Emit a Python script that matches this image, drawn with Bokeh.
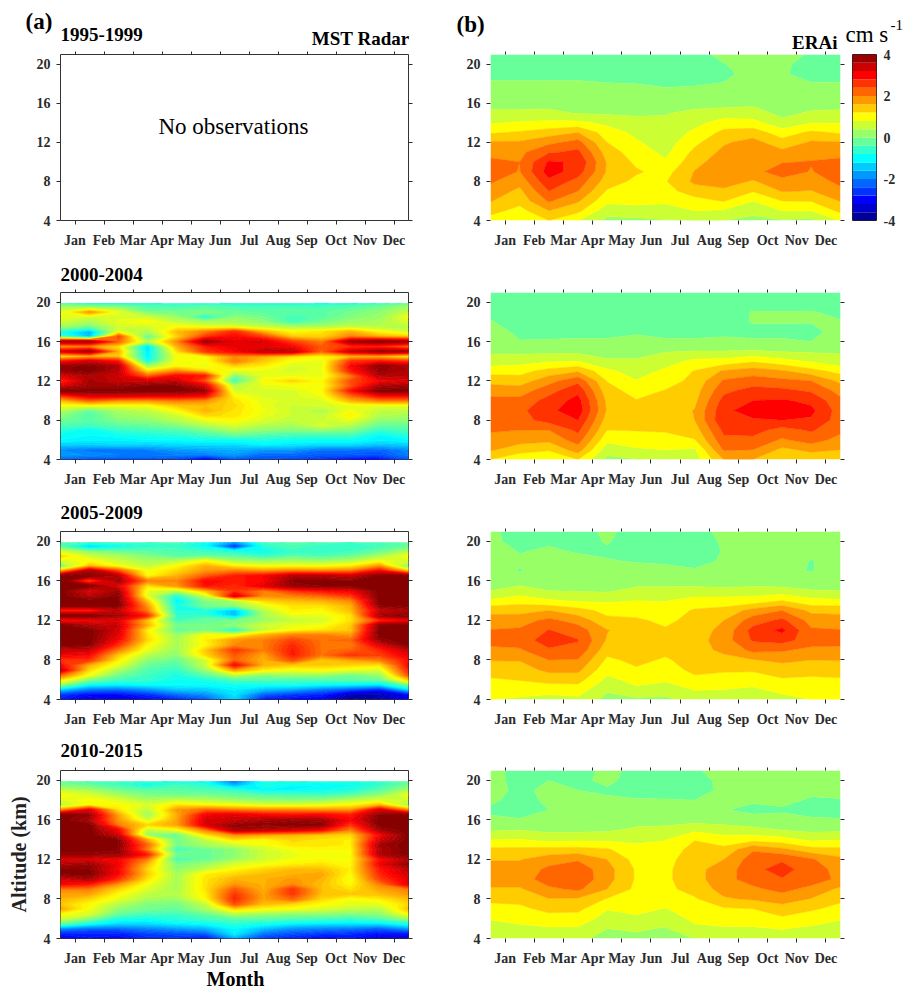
import numpy as np
from bokeh.plotting import figure
from bokeh.layouts import column, row
from bokeh.models import Label, LinearAxis, FixedTicker, Range1d
from bokeh.embed import file_html
from bokeh.resources import INLINE

MONTHS = ["Jan","Feb","Mar","Apr","May","Jun","Jul","Aug","Sep","Oct","Nov","Dec"]
MONTH_TICKS = list(range(1, 13))
ALT_TICKS = [4, 8, 12, 16, 20]
CB_TICKS = [-4, -2, 0, 2, 4]
GRID_X = [0.5,1.5,2.5,3.5,4.5,5.5,6.5,7.5,8.5,9.5,10.5,11.5,12.5]
ERA_ALT = [21,20,19,18,17,16,15,14,13,12,11,10,9,8,7,6,5,4]
MST_ALT = [19.9,19.5,19,18.5,18,17.5,17,16.5,16,15.5,15,14.5,14,13.5,13,12.5,12,11.5,11,10.5,10,9.5,9,8.5,8,7.5,7,6.5,6,5.5,5,4.5,4]
ERA_LEVELS = [-4,-3.6,-3.2,-2.8,-2.4,-2,-1.6,-1.2,-0.8,-0.4,0,0.4,0.8,1.2,1.6,2,2.4,2.8,3.2,3.6,4]
ERA_COLORS = ["#000099","#0000CC","#0000FF","#0033FF","#0066FF","#0099FF","#00CCFF","#00FFFF","#33FFCC","#66FF99",
              "#99FF66","#CCFF33","#FFFF00","#FFCC00","#FF9900","#FF6600","#FF3300","#FF0000","#CC0000","#990000"]

# ERAi: one list per month-edge column, altitude 21 km down to 4 km
ERA_1995 = [
[-.2,-.2,-.1,.05,.2,.3,.45,.75,1.15,1.65,1.85,2.1,2.2,2.05,1.85,1.62,1.35,1.0],
[-.2,-.2,-.1,.05,.2,.3,.45,.85,1.25,1.65,1.9,2.0,1.98,1.75,1.5,1.35,1.05,.8],
[-.2,-.2,-.1,.05,.2,.3,.47,.9,1.4,1.9,2.35,2.85,3.0,2.7,2.4,2.05,1.6,1.2],
[-.2,-.2,-.1,.05,.2,.3,.38,.9,1.6,2.15,2.5,2.75,2.6,2.25,2.0,1.65,1.3,.8],
[-.2,-.2,-.15,.02,.15,.3,.35,.7,1.0,1.2,1.4,1.55,1.55,1.4,1.15,.9,.55,.3],
[-.2,-.2,-.15,0,.15,.3,.35,.5,.7,.85,1.0,1.12,1.25,1.1,1.0,.9,.65,.3],
[-.2,-.2,-.2,-.07,.12,.25,.37,.5,.5,.6,.7,.85,1.05,1.17,1.05,.88,.6,.38],
[-.2,-.15,-.1,-.03,.1,.25,.5,.65,.9,1.1,1.3,1.45,1.62,1.68,1.4,1.05,.8,.4],
[.15,-.02,-.1,.02,.15,.28,.55,1.0,1.3,1.55,1.7,1.85,1.9,1.8,1.5,1.22,.75,.4],
[.2,.2,.15,.15,.2,.33,.55,.95,1.4,1.75,1.9,1.95,1.9,1.55,1.22,.8,.5,.3],
[.15,.05,.03,.05,.15,.25,.3,.5,1.0,1.35,1.7,1.98,2.15,1.9,1.62,1.2,.8,.35],
[-.05,-.1,-.1,.02,.15,.25,.45,.78,1.28,1.65,1.85,2.02,1.98,1.8,1.58,1.22,.8,.3],
[-.15,-.15,-.1,.02,.15,.3,.45,.78,1.15,1.62,1.85,2.1,2.2,2.1,1.9,1.62,1.3,.82],
]
ERA_2000 = [
[-.2,-.2,-.1,.03,.2,.3,.35,.55,1.05,1.45,1.85,2.1,2.2,2.2,2.05,1.85,1.65,1.2],
[-.25,-.25,-.25,-.2,-.1,.02,.3,.65,1.05,1.4,1.8,2.12,2.3,2.25,2.0,1.75,1.4,.85],
[-.25,-.25,-.25,-.2,-.1,.03,.3,.75,1.35,1.85,2.25,2.55,2.7,2.55,2.0,1.7,1.25,.8],
[-.25,-.25,-.25,-.2,-.1,.05,.3,.8,1.55,2.3,2.7,2.95,3.05,2.8,2.5,2.2,1.8,1.2],
[-.25,-.25,-.25,-.2,-.1,.05,.25,.45,.9,1.18,1.35,1.5,1.55,1.4,1.2,.9,.55,.3],
[-.25,-.25,-.25,-.2,-.05,.12,.25,.45,.6,.82,1.05,1.22,1.3,1.3,1.22,1.0,.75,.38],
[-.25,-.25,-.25,-.2,-.1,.05,.38,.62,.88,1.02,1.22,1.3,1.35,1.32,1.25,1.03,.8,.45],
[-.25,-.25,-.25,-.2,-.1,.05,.42,.9,1.22,1.32,1.42,1.5,1.62,1.6,1.4,1.18,.75,.6],
[-.25,-.25,-.25,-.15,-.05,.05,.42,.95,1.65,2.05,2.3,2.55,2.7,2.75,2.5,2.3,2.05,1.6],
[-.25,-.25,.03,.02,-.1,.05,.45,1.15,1.8,2.2,2.55,2.8,3.0,2.75,2.55,2.3,2.0,1.6],
[-.25,-.25,.02,.02,-.1,.05,.38,.95,1.65,2.1,2.5,2.85,3.05,2.8,2.25,1.95,1.5,1.3],
[-.25,-.25,.03,.02,-.15,0,.35,.75,1.35,2.0,2.35,2.7,2.9,2.75,2.45,2.2,1.7,1.3],
[-.25,-.25,-.1,.03,.2,.3,.35,.55,1.05,1.5,1.85,2.1,2.2,2.2,2.1,1.85,1.6,1.2],
]
ERA_2005 = [
[.1,.1,.15,.15,.2,.3,.4,.85,1.5,1.75,2.02,2.15,1.9,1.62,1.4,1.15,1.0,.8],
[-.2,-.15,-.02,.05,-.03,.25,.55,1.05,1.45,1.85,2.05,2.2,1.95,1.62,1.42,1.22,.95,.75],
[-.2,-.05,.05,.15,.2,.3,.4,.85,1.6,2.1,2.42,2.6,2.35,2.0,1.7,1.35,.95,.65],
[-.2,-.15,-.03,.1,.2,.3,.38,.75,1.35,1.85,2.2,2.42,2.3,1.98,1.7,1.35,1.0,.7],
[.1,.03,-.05,.02,.15,.25,.35,.72,1.08,1.3,1.62,1.55,1.35,1.12,.92,.7,.45,.28],
[-.2,-.2,-.2,-.02,.12,.25,.5,.8,1.02,1.27,1.38,1.42,1.38,1.3,1.15,.92,.72,.32],
[-.2,-.2,-.15,-.05,.1,.25,.5,.78,.95,1.1,1.25,1.35,1.3,1.15,1.02,.85,.6,.3],
[-.2,-.2,-.18,-.08,.03,.2,.55,.95,1.25,1.35,1.4,1.42,1.42,1.38,1.3,1.1,.82,.55],
[.15,.05,.02,.03,.05,.2,.5,.98,1.32,1.6,1.72,1.8,1.7,1.45,1.25,1.05,.8,.55],
[.2,.2,.2,.2,.1,.15,.6,.95,1.75,2.2,2.55,2.45,2.1,1.58,1.25,1.0,.72,.45],
[.2,.2,.2,.2,.08,.15,.55,1.2,2.0,2.5,2.9,2.55,2.05,1.68,1.42,1.15,.92,.65],
[.2,.15,.1,-.02,-.02,.2,.42,.92,1.5,1.85,2.05,2.2,1.9,1.6,1.4,1.1,.9,.8],
[.15,.05,.15,.15,.2,.3,.4,.85,1.5,1.75,2.02,2.15,1.9,1.62,1.4,1.15,1.0,.8],
]
ERA_2010 = [
[.15,.15,.15,.05,-.05,.05,.35,.78,1.3,1.58,1.72,1.8,1.55,1.28,1.08,.82,.65,.5],
[-.15,-.15,-.1,-.1,-.1,.02,.38,.82,1.3,1.58,1.72,1.8,1.55,1.3,1.12,.92,.7,.5],
[-.1,0,.1,.05,0,.2,.3,.65,1.35,1.8,2.1,2.2,1.92,1.58,1.3,1.05,.75,.55],
[-.15,-.08,0,.1,.2,.27,.3,.72,1.35,1.95,2.25,2.3,2.08,1.55,1.3,1.0,.75,.5],
[.1,.08,-.05,.05,.15,.25,.33,.72,1.25,1.6,1.75,1.75,1.6,1.17,.82,.65,.4,.25],
[-.1,-.15,-.1,.02,.15,.25,.47,.72,.92,1.05,1.15,1.15,1.1,1.02,.92,.72,.45,.3],
[-.15,-.2,-.15,.02,.15,.25,.5,.78,.95,1.05,1.1,1.12,1.1,1.0,.78,.55,.37,.28],
[-.05,-.15,-.1,0,.1,.25,.7,1.18,1.35,1.45,1.5,1.45,1.35,1.15,1.0,.9,.7,.4],
[.15,.1,.05,.05,.02,.25,.55,1.0,1.3,1.6,1.75,1.85,1.75,1.55,1.15,.98,.75,.6],
[.2,.2,.15,.05,-.1,.15,.5,1.05,1.95,2.2,2.3,2.2,1.9,1.65,1.2,1.0,.75,.55],
[.2,.2,.2,.1,-.05,.12,.38,.95,1.7,2.35,2.55,2.38,2.15,1.75,1.45,1.12,.82,.6],
[.2,.15,.1,-.05,-.12,.05,.3,.72,1.35,2.05,2.2,2.25,1.85,1.58,1.25,1.0,.72,.5],
[.2,.15,.1,-.02,-.15,.03,.32,.78,1.3,1.7,1.85,1.88,1.52,1.28,1.08,.82,.65,.5],
]

# MST radar: one list per altitude (19.9 km down to 4 km), 13 month-edge columns
MST_2000 = [
[-.4,-.8,-.8,-.8,-.7,-.7,-.8,-.8,-.8,-.9,-.8,-.6,-.3],
[.3,.2,.1,-.3,-.4,-.3,-.4,-.4,-.4,-.4,-.3,-.1,.3],
[.7,1.8,.8,-.1,-.1,0,-.2,-.3,-.3,-.3,-.1,.1,.5],
[.8,.6,.7,.6,.2,-.8,.1,-.1,-.5,-.3,0,.2,.9],
[.6,.3,.8,1.0,.5,.3,.3,.1,-.5,-.1,.2,.3,.7],
[.2,-.2,.6,.6,1.0,.8,.7,.5,.3,.3,.5,.4,.4],
[-.8,-1.6,.8,.3,1.5,2.0,2.7,1.6,1.0,1.2,1.6,1.0,.6],
[-.5,-1.5,2.5,-.3,1.3,2.6,3.0,2.5,1.4,1.3,2.0,1.6,1.4],
[3.7,3.7,2.2,.4,1.9,3.8,3.2,3.3,2.5,2.0,3.7,3.9,3.7],
[1.6,1.8,1.2,-1.3,1.6,2.8,3.2,3.2,3.0,2.3,2.6,2.6,2.0],
[3.2,3.7,1.6,-1.2,1.2,2.6,3.0,3.5,3.5,2.2,3.4,3.8,3.6],
[1.0,1.4,1.4,-1.1,.9,1.0,1.9,1.6,1.2,1.0,1.4,1.4,.9],
[2.8,3.3,2.8,-.9,1.0,.9,2.0,1.4,.9,.8,2.6,2.8,2.5],
[3.8,4,3.6,.2,1.0,.8,1.3,1.1,.7,.8,3.0,3.9,3.6],
[3.8,4,3.5,1.2,1.9,1.3,.7,.8,.7,.8,2.8,3.8,3.6],
[3.2,3.6,3.4,2.2,3.0,2.8,-.1,.8,.8,.8,2.0,3.6,3.5],
[2.6,3.7,3.4,3.3,3.4,2.3,-.6,1.0,1.3,1.0,2.4,3.0,3.2],
[3.2,3.7,3.7,3.9,3.9,3.2,.4,.8,.9,.9,2.3,3.6,3.7],
[4,4,4,4,4,3.8,.6,.7,.7,1.0,2.9,4,4],
[2.6,3.3,3.3,3.2,3.2,3.0,1.0,.7,.7,.9,2.2,3.0,3.0],
[1.5,2.2,1.8,1.8,2.0,1.9,1.2,.8,.7,.7,1.6,2.0,2.0],
[.9,.9,.9,.9,1.4,1.5,1.3,.8,.6,.7,.8,.8,.8],
[.4,-.2,.3,.5,1.0,1.6,1.2,.9,.6,.3,.9,.5,.5],
[.1,-.4,.2,.3,.6,1.3,1.2,.8,.6,.5,1.1,.4,.3],
[-.1,-.3,0,.1,.4,.8,1.0,.7,.5,.6,.8,.1,.1],
[-.4,-.5,-.3,-.2,0,.4,.7,.4,.3,.7,.4,-.2,-.2],
[-.7,-1.0,-.6,-.5,-.4,-.1,.3,.1,0,.1,0,-.6,-.4],
[-.9,-1.0,-.9,-.8,-.7,-.5,-.2,-.4,-.5,-.5,-.5,-1.0,-.7],
[-1.0,-1.1,-1.1,-1.0,-1.0,-.9,-.9,-.8,-.9,-.9,-.9,-1.1,-1.0],
[-1.4,-1.4,-1.3,-1.4,-1.3,-1.3,-1.3,-1.1,-1.2,-1.3,-1.3,-1.5,-1.4],
[-1.9,-2.1,-2.1,-2.0,-1.8,-1.7,-1.6,-1.8,-1.8,-2.1,-2.1,-2.2,-1.9],
[-1.8,-1.9,-2.0,-2.0,-2.0,-2.0,-1.8,-2.2,-2.2,-2.3,-2.3,-2.4,-2.0],
[-2.3,-2.4,-2.4,-2.4,-2.5,-3.2,-2.4,-2.4,-2.5,-2.7,-3.0,-3.0,-2.4],
]
MST_2005 = [
[-.3,-.6,-.5,-.5,-.4,-.9,-1.8,-.5,-.3,-.4,-.5,-.4,-.2],
[-.4,-1.4,-1.0,-.7,-.6,-1.0,-2.8,-.7,-.4,-.6,-.6,-.5,-.2],
[.6,0,-.2,-.3,-.4,-.6,-.8,-.9,-.6,-.6,-.5,-.2,.3],
[1.3,.6,.3,0,-.3,-.2,-.3,-.6,-.3,-.4,-.2,.3,1.0],
[.6,1.0,.6,.3,.4,1.0,.3,.2,.3,.2,.4,.9,.6],
[-.2,1.5,.9,.5,1.0,1.6,1.1,.9,.9,.9,1.1,1.8,-.1],
[1.6,3.7,2.4,.9,1.3,1.8,2.0,1.8,2.0,1.9,2.0,3.0,1.4],
[4,3.9,3.6,1.0,1.6,2.3,2.8,3.0,3.6,3.6,3.4,4,4],
[4,2.2,3.8,2.0,1.9,3.0,2.8,3.0,3.9,3.9,3.9,4,4],
[4,4,3.2,1.2,1.8,2.9,2.7,3.2,3.8,3.9,3.9,4,4],
[4,3.2,3.7,.8,.4,1.5,2.6,2.0,2.6,2.9,3.1,4,4],
[4,3.5,3.9,.7,-.7,.6,3.3,1.9,2.0,2.2,2.6,4,4],
[4,4,3.9,1.4,-1.1,0,.3,1.3,1.5,1.6,1.9,4,4],
[4,4,4,1.8,-.9,-.1,.1,.8,1.2,1.2,1.6,3.9,4],
[2.6,2.6,3.4,2.0,-.8,-.8,-1.5,.4,1.1,1.0,1.5,3.4,3.6],
[4,4,3.7,2.7,-.6,-.6,-1.5,.3,.8,.8,1.2,3.7,4],
[2.8,3.0,3.2,1.4,-.5,-.2,-.1,.2,.5,.6,1.2,2.6,3],
[4,3.6,3.4,1.6,-.1,-.1,.1,.6,.8,.9,1.4,3.9,4],
[4,4,3.3,1.1,-.2,-.1,-.8,.5,1.0,1.2,1.4,4,4],
[4,4,3.2,1.2,.2,1.0,.9,1.6,2.0,2.0,1.8,4,4],
[4,4,3,1.3,.3,1.1,1.8,2.0,2.5,2.1,2.2,3.8,4],
[4,3.9,2.6,1.0,.3,1.0,1.9,2.0,2.7,2.1,2.0,3.2,4],
[3.4,3.4,2.0,.8,.2,1.4,2.6,2.0,2.8,2.1,2.2,2.7,3.5],
[3.1,3.0,1.4,.4,.1,1.3,2.3,1.7,2.8,2.1,2.6,2.5,3.2],
[2.6,2.6,1.1,.1,-.2,.6,2.2,1.6,2.4,1.4,1.7,2.0,2.9],
[3.0,1.6,.8,-.2,-.4,.6,3.0,1.6,1.4,1.4,1.3,1.2,3.0],
[3.5,1.3,.3,-.4,-.6,.2,1.8,1.1,.9,1.0,.8,.7,2.8],
[2.2,.9,-.1,-.5,-.8,-.3,.5,.1,.2,.2,-.1,.2,2.4],
[1.2,0,-.5,-.6,-.9,-.8,-.4,-.4,-.4,-.4,-.3,-.2,1.4],
[.2,-1.0,-1.1,-1.0,-1.0,-1.0,-.9,-.9,-.9,-1.0,-1.1,-1.2,-.1],
[-1.4,-2.1,-2.2,-1.9,-1.5,-1.4,-1.1,-1.5,-1.7,-2.1,-2.4,-2.8,-1.3],
[-2.6,-3.0,-3.0,-2.7,-2.2,-1.9,-1.2,-2.3,-2.6,-2.8,-3.6,-3.7,-3.0],
[-2.8,-3.3,-3.0,-3.0,-2.8,-2.4,-1.3,-2.9,-3.0,-3.0,-3.9,-3.5,-3.1],
]
MST_2010 = [
[-.2,-.4,-.5,-.7,-.8,-.9,-2.2,-.8,-.7,-.8,-.8,-.6,-.2],
[0,-.2,-.5,-.9,-.5,-.7,-1.6,-.8,-1.0,-1.0,-.9,-.6,-.1],
[.5,.3,-.1,-.3,-.3,-.4,-.6,-1.0,-1.0,-.9,-.8,-.3,.3],
[1.0,.7,.3,0,-.1,-.1,-.2,-.4,-.4,-.5,-.3,.1,.9],
[.7,1.0,.7,.3,.5,.4,.2,.1,0,.1,.4,.7,.6],
[.4,1.0,1.0,.7,1.2,1.0,.9,.7,.7,.8,1.0,1.5,.2],
[1.8,3.2,1.2,.4,1.8,2.2,2.0,1.9,1.9,1.8,1.8,3.3,1.8],
[4,3.8,1.7,.2,1.6,3.1,3.2,3.0,2.9,3.0,2.8,3.9,4],
[4,3.6,1.8,.6,1.7,3.3,3.4,3.6,3.7,3.7,3.0,4,4],
[4,4,2.0,1.3,1.7,3.3,3.8,3.9,4,3.9,2.6,4,4],
[4,4,3.0,.5,.9,2.0,3.7,3.5,3.3,3.0,2.0,3.7,4],
[4,4,3.3,.1,-.2,1.2,1.9,1.7,1.6,1.4,1.3,3.0,4],
[4,4,3.9,1.6,-.1,.5,1.2,1.0,1.3,1.2,1.1,3.3,4],
[4,4,3.9,2.2,-.1,.3,.6,.9,1.2,1.2,1.1,3.7,4],
[4,4,3.9,2.0,-.5,-.2,.1,.6,.9,1.0,1.0,3.6,4],
[3.8,3.8,3.8,2.8,-.1,-.2,.1,.6,.8,1.0,1.0,3.6,4],
[3.2,3.2,3.0,2.0,-.5,-.2,.2,.6,.9,1.0,1.0,2.9,3.6],
[3.6,3.8,3.1,1.5,0,.2,.7,.9,1.1,1.2,1.0,3.1,3.9],
[3.9,3.9,3.0,1.3,.1,.5,1.0,1.3,1.5,1.5,1.1,2.8,3.5],
[3.9,4,3.0,1.4,.3,1.1,1.3,1.5,1.6,1.7,1.0,2.7,3.4],
[3.3,3.6,2.6,1.2,.3,1.2,1.6,1.6,1.8,1.6,.9,2.5,3.2],
[3.0,2.8,1.8,.9,.3,1.2,1.8,1.6,1.9,1.5,1.0,2.0,3.2],
[2.0,2.0,1.3,.7,.3,1.2,2.3,1.6,2.6,1.5,1.2,1.7,2.0],
[1.7,1.7,1.0,.5,.4,1.1,2.6,1.7,2.6,1.5,1.4,1.5,1.8],
[1.6,1.3,.8,.3,.2,1.0,2.7,1.7,2.2,1.3,.9,1.1,1.5],
[1.4,1.0,.4,0,-.1,.5,2.4,1.5,1.3,1.0,.8,.8,1.3],
[1.7,.9,.1,-.1,-.2,.3,1.3,1.0,.9,.7,.5,.4,1.5],
[1.0,.7,-.2,-.5,-.5,-.2,.4,.2,.1,.1,0,.1,1.0],
[.6,0,-.8,-.9,-.7,-.5,-.3,-.3,-.4,-.5,-.6,-.4,.2],
[-.2,-.9,-1.3,-1.3,-1.1,-1.0,-.7,-.9,-1.1,-1.2,-1.2,-1.2,-.8],
[-1.9,-2.2,-2.2,-2.0,-1.8,-1.6,-1.0,-1.5,-1.9,-2.0,-2.1,-2.3,-1.8],
[-2.8,-2.8,-2.8,-2.5,-2.4,-2.3,-1.1,-2.1,-2.4,-2.6,-2.7,-2.9,-2.9],
[-3.1,-2.9,-3.0,-2.7,-2.7,-3.0,-1.7,-2.6,-2.8,-3.1,-2.9,-3.5,-3.6],
]

SERIF = "Liberation Serif"
TICK = "#2b2b2b"

def jet(n):
    v = (np.arange(n) + 0.5) / n
    r = np.clip(1.5 - np.abs(4 * v - 3), 0, 1)
    g = np.clip(1.5 - np.abs(4 * v - 2), 0, 1)
    b = np.clip(1.5 - np.abs(4 * v - 1), 0, 1)
    return ["#%02x%02x%02x" % (int(a * 255), int(c * 255), int(d * 255)) for a, c, d in zip(r, g, b)]

MST_COLORS = jet(64)
MST_LEVELS = list(np.linspace(-4, 4, 65))
MST_LEVELS[-1] = 4.01

def style(ax, ticks):
    ax.ticker = FixedTicker(ticks=ticks)
    ax.minor_tick_line_color = None
    ax.major_tick_in = 0
    ax.major_tick_out = 4
    ax.major_tick_line_color = TICK
    ax.axis_line_color = None
    ax.major_label_text_font = SERIF
    ax.major_label_text_font_style = "bold"
    ax.major_label_text_font_size = "14px"
    ax.major_label_text_color = TICK

def panel(fw, fh, left, right, top, bottom, outline):
    p = figure(width=left + fw + right, height=top + fh + bottom, output_backend="svg", toolbar_location=None,
               x_range=Range1d(0.5, 12.5), y_range=Range1d(4, 21),
               min_border_left=left, min_border_right=right, min_border_top=top, min_border_bottom=bottom,
               x_axis_location=None, y_axis_location=None, border_fill_alpha=0)
    p.grid.visible = False
    p.outline_line_color = "#333333" if outline else None
    b = LinearAxis(); style(b, MONTH_TICKS)
    b.major_label_overrides = {m: n for m, n in zip(MONTH_TICKS, MONTHS)}
    b.major_label_standoff = 8
    l = LinearAxis(); style(l, ALT_TICKS); l.major_label_standoff = 6
    t = LinearAxis(); style(t, MONTH_TICKS); t.major_tick_out = 3
    t.major_label_overrides = {m: "" for m in MONTH_TICKS}; t.major_label_text_font_size = "1px"; t.major_label_standoff = 0
    r = LinearAxis(); style(r, ALT_TICKS)
    r.major_label_overrides = {m: "" for m in ALT_TICKS}; r.major_label_text_font_size = "1px"; r.major_label_standoff = 0
    p.add_layout(b, "below"); p.add_layout(l, "left"); p.add_layout(t, "above"); p.add_layout(r, "right")
    return p

def strip(width, height):
    s = figure(width=width, height=height, output_backend="svg", toolbar_location=None,
               x_range=Range1d(0, 1), y_range=Range1d(0, 1),
               min_border_left=0, min_border_right=0, min_border_top=0, min_border_bottom=0,
               x_axis_location=None, y_axis_location=None)
    s.grid.visible = False
    s.outline_line_color = None
    return s

def put(p, x, y, s, size, bold=True, align="left"):
    # x: pixels from the frame's left edge; y: pixels of the baseline above the frame's bottom edge
    p.add_layout(Label(x=x, y=y + 0.35 * size, x_units="screen", y_units="screen", text=s,
                       text_font=SERIF, text_font_style="bold" if bold else "normal",
                       text_font_size=f"{size}px", text_align=align, text_baseline="alphabetic",
                       text_color="black"))

def era(p, cols):
    z = np.array(cols).T[::-1]
    p.contour(GRID_X, ERA_ALT[::-1], z, ERA_LEVELS, fill_color=ERA_COLORS,
              line_color=ERA_COLORS + [ERA_COLORS[-1]], line_width=0.5)

def mst(p, rows):
    z = np.array(rows)[::-1]
    p.contour(GRID_X, MST_ALT[::-1], z, MST_LEVELS, fill_color=MST_COLORS,
              line_color=MST_COLORS + [MST_COLORS[-1]], line_width=1)

LW, RW = 450, 395
L1 = panel(348, 170, 60, 42, 3, 45, True)
L2 = panel(348, 171, 60, 42, 4, 44, True)
L3 = panel(348, 172, 60, 42, 4, 42, True)
L4 = panel(348, 173, 60, 42, 4, 30, True)
R1 = panel(350, 167, 40, 5, 6, 45, False)
R2 = panel(350, 168, 40, 5, 8, 43, False)
R3 = panel(350, 168, 40, 5, 8, 42, False)
R4 = panel(350, 168, 40, 5, 9, 30, False)

mst(L2, MST_2000); mst(L3, MST_2005); mst(L4, MST_2010)
era(R1, ERA_1995); era(R2, ERA_2000); era(R3, ERA_2005); era(R4, ERA_2010)

put(L1, 173, 220 - 134, "No observations", 23, bold=False, align="center")
ax = L4.left[0]
ax.axis_label = "Altitude (km)"
ax.axis_label_text_font = SERIF
ax.axis_label_text_font_style = "bold"
ax.axis_label_text_font_size = "20px"
ax.axis_label_text_color = "#222222"
ax.axis_label_standoff = 4

# text strips above the panels (each frame fills its strip, so nothing is clipped)
S1L = strip(LW, 55)
put(S1L, 25, 26, "(a)", 23)
put(S1L, 60, 14, "1995-1999", 19)
put(S1L, 409, 10, "MST Radar", 19, align="right")
S1R = strip(RW, 55)
put(S1R, 6, 23, "(b)", 23)
put(S1R, 387, 6, "ERAi", 19, align="right")
S1C = strip(59, 55)
put(S1C, 0, 13, "cm s", 23, bold=False)
put(S1C, 45, 25, "-1", 15, bold=False)
S2L = strip(LW, 19); put(S2L, 60, 3, "2000-2004", 19)
S3L = strip(LW, 20); put(S3L, 60, 4, "2005-2009", 19)
S4L = strip(LW, 20); put(S4L, 60, 4, "2010-2015", 19)
S5L = strip(LW, 24); put(S5L, 235, 7, "Month", 20, align="center")

# colour bar
cb = figure(width=59, height=218, output_backend="svg", toolbar_location=None,
            x_range=Range1d(0, 1), y_range=Range1d(-4, 4),
            min_border_left=7, min_border_right=28, min_border_top=7, min_border_bottom=44,
            x_axis_location=None, y_axis_location=None, border_fill_alpha=0)
cb.grid.visible = False
cb.outline_line_color = "#222222"
cb.quad(left=0, right=1, bottom=ERA_LEVELS[:-1], top=ERA_LEVELS[1:], fill_color=ERA_COLORS, line_color=None)
cax = LinearAxis(ticker=FixedTicker(ticks=CB_TICKS))
cax.major_label_overrides = {t: str(t) for t in CB_TICKS}
cax.minor_tick_line_color = None
cax.major_tick_in = 0
cax.major_tick_out = 0
cax.axis_line_color = None
cax.major_label_text_font = SERIF
cax.major_label_text_font_style = "bold"
cax.major_label_text_font_size = "14px"
cax.major_label_text_color = TICK
cax.major_label_standoff = 7
cb.add_layout(cax, "right")

page = column(
    row(S1L, S1R, S1C, spacing=0),
    row(L1, R1, cb, spacing=0, margin=(-8, 0, 0, 0)),
    row(S2L, spacing=0),
    row(L2, R2, spacing=0),
    row(S3L, spacing=0),
    row(L3, R3, spacing=0),
    row(S4L, spacing=0),
    row(L4, R4, spacing=0),
    row(S5L, spacing=0),
    spacing=0,
)
open("out.html", "w").write(file_html(page, INLINE))
